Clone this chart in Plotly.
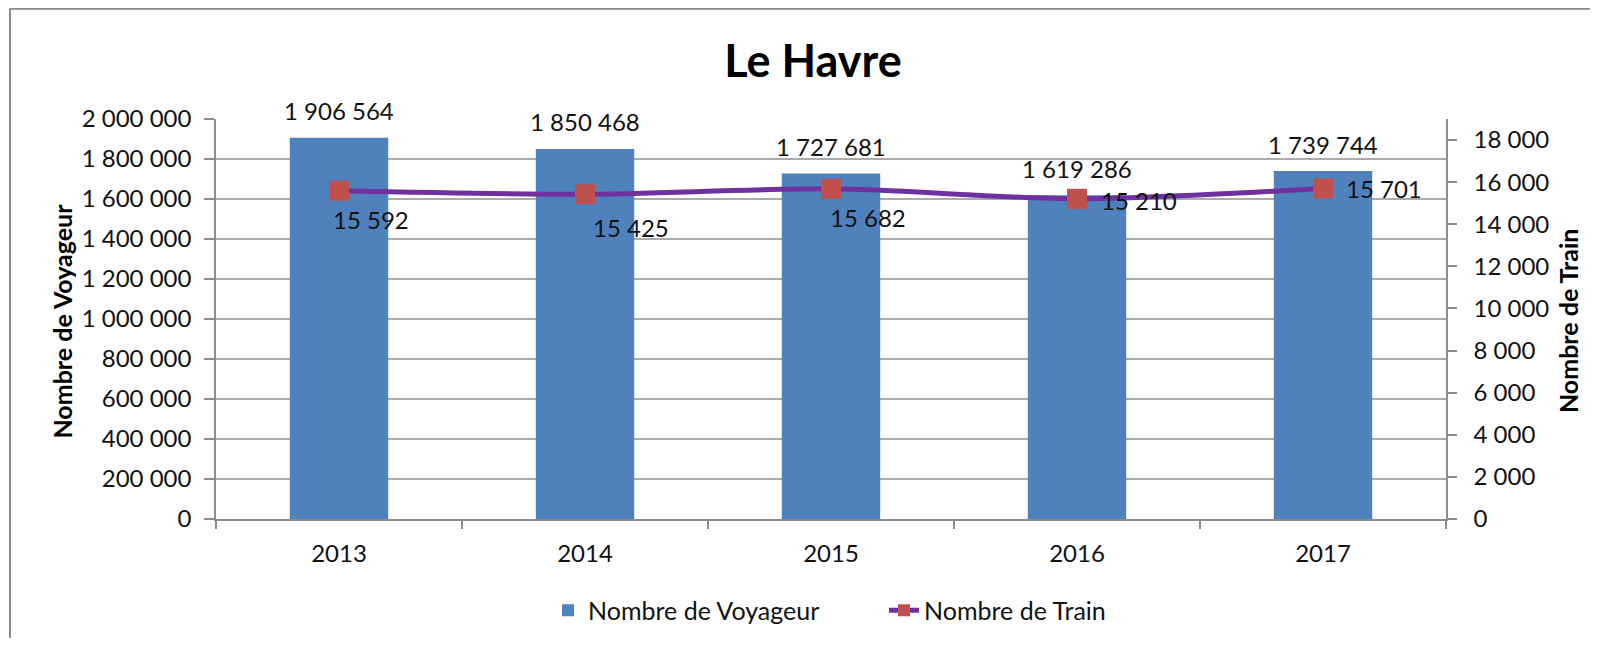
import plotly.graph_objects as go

years = ["2013", "2014", "2015", "2016", "2017"]
voyageurs = [1906564, 1850468, 1727681, 1619286, 1739744]
trains = [15592, 15425, 15682, 15210, 15701]

left_ticks = list(range(0, 2000001, 200000))
right_ticks = list(range(0, 18001, 2000))

# label offsets (pixels) for the train labels, style only
train_label_dx = [32, 46, 37, 62, 61]
train_label_dy = [-29, -33, -29, -2, 0]

FONT = "Lato"
BLUE = "#4F81BD"
PURPLE = "#7030A0"
RED = "#C0504D"
GRID = "#ABABAB"
AXIS = "#8C8C8C"

W, H = 1582, 630  # page body adds an 8px margin


def fmt(v):
    return f"{v:,}".replace(",", " ")


fig = go.Figure()
fig.add_trace(go.Bar(
    x=years, y=voyageurs, name="Nombre de Voyageur",
    marker=dict(color=BLUE, line=dict(width=0)), width=0.4, yaxis="y",
))
fig.add_trace(go.Scatter(
    x=years, y=trains, name="Nombre de Train", yaxis="y2", mode="lines+markers",
    line=dict(color=PURPLE, width=5, shape="spline", smoothing=0.8),
    marker=dict(symbol="square", size=20, color=RED, line=dict(width=0)),
))

annotations = []
for i, v in enumerate(voyageurs):
    annotations.append(dict(
        x=i, y=v, xref="x", yref="y", text=fmt(v), showarrow=False,
        yanchor="middle", xanchor="center", yshift=27,
        font=dict(family=FONT, size=24, color="#111111"),
    ))
for i, (v, dx, dy) in enumerate(zip(trains, train_label_dx, train_label_dy)):
    annotations.append(dict(
        x=i, y=v, xref="x", yref="y2", text=fmt(v), showarrow=False,
        yanchor="middle", xanchor="center", xshift=dx, yshift=dy,
        font=dict(family=FONT, size=24, color="#111111"),
    ))

# axis titles
annotations.append(dict(
    x=-0.1256, y=0.495, xref="paper", yref="paper", text="Nombre de Voyageur",
    textangle=-90, showarrow=False, xanchor="center", yanchor="middle",
    font=dict(family=FONT, size=25, color="#000000", weight="bold"),
))
annotations.append(dict(
    x=1.0992, y=0.495, xref="paper", yref="paper", text="Nombre de Train",
    textangle=-90, showarrow=False, xanchor="center", yanchor="middle",
    font=dict(family=FONT, size=25, color="#000000", weight="bold"),
))

shapes = [
    dict(type="line", xref="paper", yref="paper", x0=-0.1675, x1=-0.1675,
         y0=1.2758, y1=-0.33, line=dict(color="#898989", width=2)),
    dict(type="line", xref="paper", yref="paper", x0=-0.1675, x1=1.13,
         y0=1.2758, y1=1.2758, line=dict(color="#898989", width=2)),
]

fig.update_layout(
    width=W, height=H,
    margin=dict(l=208, r=144, t=111, b=119, pad=0, autoexpand=False),
    paper_bgcolor="white", plot_bgcolor="white",
    separators=". ",
    font=dict(family=FONT, size=24, color="#000000"),
    title=dict(text="Le Havre", x=0.4854, xref="paper", xanchor="center",
               y=1 - 53 / H, yref="container", yanchor="middle",
               font=dict(family=FONT, size=45, color="#000000", weight="bold")),
    xaxis=dict(
        type="category", range=[-0.5, 4.5], autorange=False,
        showline=True, linecolor=AXIS, linewidth=1.5,
        ticks="outside", tickson="boundaries", ticklen=8, tickcolor=AXIS, tickwidth=1.5,
        showgrid=False, tickangle=0, ticklabelstandoff=12,
        tickfont=dict(family=FONT, size=24, color="#111111"),
    ),
    yaxis=dict(
        range=[0, 2000000], autorange=False, tickvals=left_ticks, tickformat=",d",
        showline=True, linecolor=AXIS, linewidth=1.5,
        ticks="outside", ticklen=10, tickcolor=AXIS, tickwidth=1.5,
        showgrid=True, gridcolor=GRID, gridwidth=1.5, zeroline=False,
        tickfont=dict(family=FONT, size=24, color="#111111"), ticklabelstandoff=8,
    ),
    yaxis2=dict(
        range=[0, 19000], autorange=False, tickvals=right_ticks, tickformat=",d",
        overlaying="y", side="right",
        showline=True, linecolor=AXIS, linewidth=1.5,
        ticks="outside", ticklen=9, tickcolor=AXIS, tickwidth=1.5,
        showgrid=False, zeroline=False,
        tickfont=dict(family=FONT, size=24, color="#111111"), ticklabelstandoff=12,
    ),
    legend=dict(
        orientation="h", x=0.5431, xanchor="center", y=-0.229, yanchor="middle",
        font=dict(family=FONT, size=25, color="#111111"), bgcolor="rgba(0,0,0,0)",
        itemsizing="constant", entrywidth=291, entrywidthmode="pixels",
    ),
    annotations=annotations,
    shapes=shapes,
)

fig.write_html("out.html")
